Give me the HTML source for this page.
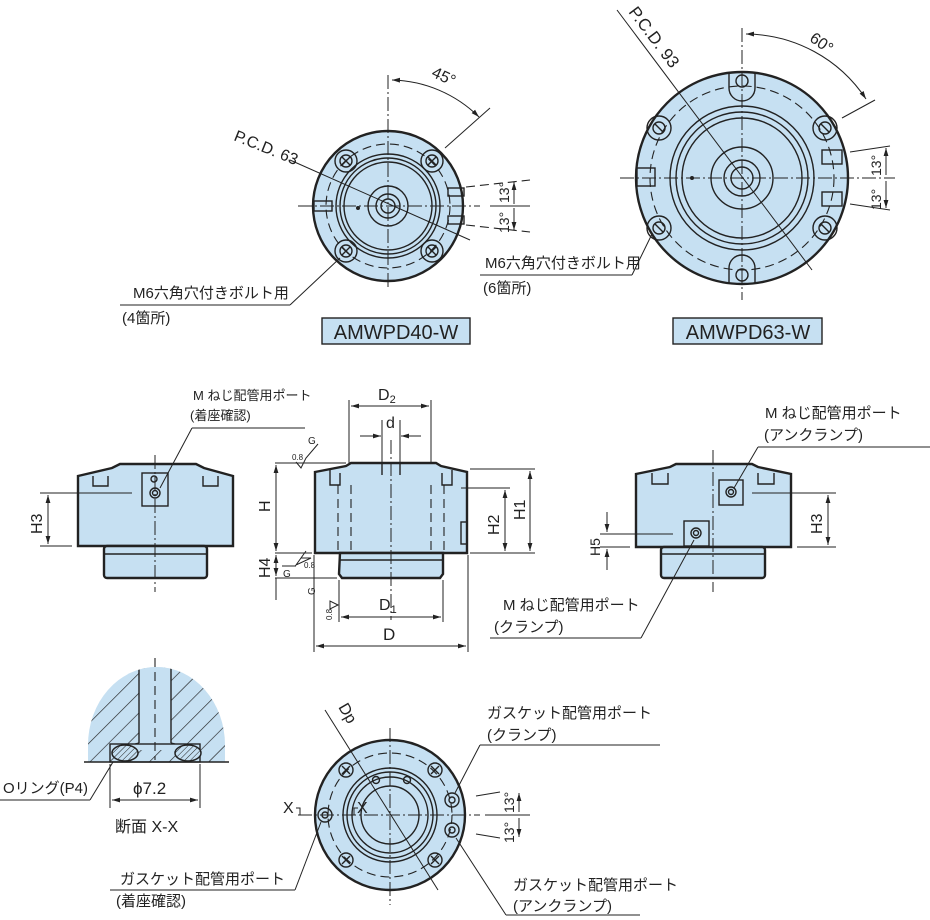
<!DOCTYPE html>
<html><head><meta charset="utf-8"><style>
html,body{margin:0;padding:0;background:#fff;}
svg{display:block;font-family:"Liberation Sans","Noto Sans CJK JP",sans-serif;}
.o{stroke:#222;stroke-width:2.4;fill:#c6e0f2}
.t{stroke:#222;stroke-width:1.4;fill:none}
.tf{stroke:#222;stroke-width:1.4;fill:#c6e0f2}
.d{stroke:#222;stroke-width:1.1;fill:none;stroke-dasharray:9 5}
.c{stroke:#222;stroke-width:1;fill:none;stroke-dasharray:14 3 2 3}
.l{stroke:#222;stroke-width:1;fill:none}
text{fill:#222}
</style></head><body>
<svg width="930" height="920" viewBox="0 0 930 920" xmlns="http://www.w3.org/2000/svg">
<defs>
<marker id="a" viewBox="0 0 10 10" refX="10" refY="5" markerWidth="8" markerHeight="8" orient="auto-start-reverse"><path d="M0,2 L10,5 L0,8 z" fill="#222"/></marker>
<pattern id="h" width="14" height="14" patternUnits="userSpaceOnUse" patternTransform="rotate(45)"><rect width="14" height="14" fill="#c6e0f2"/><line x1="0" y1="0" x2="0" y2="14" stroke="#222" stroke-width="1.3"/></pattern>
<pattern id="h2" width="4" height="4" patternUnits="userSpaceOnUse" patternTransform="rotate(45)"><rect width="4" height="4" fill="#c6e0f2"/><line x1="0" y1="0" x2="0" y2="4" stroke="#222" stroke-width="1"/></pattern>
<clipPath id="dome"><path d="M88,762 L88,745 A68.5,78 0 0 1 225,745 L225,762 Z"/></clipPath>
</defs>

<!-- ========== AMWPD40-W top view ========== -->
<g>
<circle cx="388" cy="206" r="75" class="o"/>
<circle cx="388" cy="206" r="62" class="d"/>
<circle cx="388" cy="206" r="52" class="t"/>
<circle cx="388" cy="206" r="48" class="t"/>
<circle cx="388" cy="206" r="44" class="t"/>
<circle cx="388" cy="206" r="20" class="t"/>
<circle cx="388" cy="206" r="12" class="t"/>
<circle cx="388" cy="206" r="7" class="t"/>
<circle cx="358" cy="208" r="2" fill="#222"/>
<g class="t">
<circle cx="346" cy="161" r="11"/><circle cx="346" cy="161" r="6"/><path d="M342,157l8,8M350,157l-8,8"/>
<circle cx="432" cy="161" r="11"/><circle cx="432" cy="161" r="6"/><path d="M428,157l8,8M436,157l-8,8"/>
<circle cx="346" cy="251" r="11"/><circle cx="346" cy="251" r="6"/><path d="M342,247l8,8M350,247l-8,8"/>
<circle cx="432" cy="251" r="11"/><circle cx="432" cy="251" r="6"/><path d="M428,247l8,8M436,247l-8,8"/>
<rect x="314" y="201" width="18" height="10"/><rect x="448" y="188" width="16" height="8"/><rect x="448" y="216" width="16" height="8"/>
</g>
<line x1="298" y1="206" x2="480" y2="206" class="c"/>
<line x1="388" y1="75" x2="388" y2="290" class="c"/>
<line x1="290" y1="160" x2="470" y2="240" class="l"/>
<text x="233" y="140" font-size="16" transform="rotate(22 233 140)">P.C.D. 63</text>
<line x1="445" y1="148" x2="490" y2="108" class="l"/>
<path d="M392,80 A128,128 0 0 1 479,117" class="l" marker-start="url(#a)" marker-end="url(#a)"/>
<text x="432" y="80" font-size="16" transform="rotate(25 440 75)">45°</text>
<line x1="466" y1="187" x2="530" y2="180" class="d"/>
<line x1="466" y1="225" x2="530" y2="232" class="d"/>
<line x1="490" y1="206" x2="530" y2="206" class="l"/>
<path d="M514,182 L514,204" class="l" marker-start="url(#a)"/>
<path d="M514,208 L514,230" class="l" marker-end="url(#a)"/>
<text x="509" y="203" font-size="14" transform="rotate(-90 509 203)">13°</text>
<text x="509" y="233" font-size="14" transform="rotate(-90 509 233)">13°</text>
<line x1="340" y1="258" x2="290" y2="305" class="l"/>
<line x1="120" y1="305" x2="290" y2="305" class="l"/>
<text x="133" y="298" font-size="15">M6六角穴付きボルト用</text>
<text x="122" y="323" font-size="15">(4箇所)</text>
<rect x="322" y="318" width="148" height="26" class="tf"/>
<text x="396" y="339" font-size="20" text-anchor="middle">AMWPD40-W</text>
</g>

<!-- ========== AMWPD63-W top view ========== -->
<g>
<circle cx="742" cy="178" r="106" class="o"/>
<circle cx="742" cy="178" r="92" class="d"/>
<circle cx="742" cy="178" r="72" class="t"/>
<circle cx="742" cy="178" r="66" class="t"/>
<circle cx="742" cy="178" r="60" class="t"/>
<circle cx="742" cy="178" r="31" class="t"/>
<circle cx="742" cy="178" r="18" class="t"/>
<circle cx="742" cy="178" r="11" class="t"/>
<circle cx="692" cy="178" r="2" fill="#222"/>
<g class="t">
<path d="M729,72 L729,88 A13,13 0 0 0 755,88 L755,72"/><circle cx="742" cy="81" r="6"/>
<path d="M729,284 L729,268 A13,13 0 0 1 755,268 L755,284"/><circle cx="742" cy="275" r="6"/>
<circle cx="659" cy="128" r="12"/><circle cx="659" cy="128" r="6"/><path d="M655,124l8,8"/>
<circle cx="825" cy="128" r="12"/><circle cx="825" cy="128" r="6"/><path d="M821,124l8,8"/>
<circle cx="659" cy="228" r="12"/><circle cx="659" cy="228" r="6"/><path d="M655,224l8,8"/>
<circle cx="825" cy="228" r="12"/><circle cx="825" cy="228" r="6"/><path d="M821,224l8,8"/>
<rect x="637" y="168" width="18" height="18"/><rect x="822" y="150" width="20" height="14"/><rect x="822" y="192" width="20" height="14"/>
</g>
<line x1="620" y1="178" x2="895" y2="178" class="c"/>
<line x1="742" y1="28" x2="742" y2="300" class="c"/>
<line x1="617" y1="10" x2="812" y2="270" class="l"/>
<text x="628" y="12" font-size="17" transform="rotate(53 628 12)">P.C.D. 93</text>
<line x1="842" y1="118" x2="875" y2="100" class="l"/>
<path d="M746,34 A145,145 0 0 1 866,99" class="l" marker-start="url(#a)" marker-end="url(#a)"/>
<text x="810" y="44" font-size="16" transform="rotate(35 815 40)">60°</text>
<line x1="850" y1="152" x2="890" y2="146" class="l"/>
<line x1="850" y1="204" x2="890" y2="210" class="l"/>
<path d="M886,148 L886,175" class="l" marker-start="url(#a)"/>
<path d="M886,181 L886,208" class="l" marker-end="url(#a)"/>
<text x="881" y="176" font-size="14" transform="rotate(-90 881 176)">13°</text>
<text x="881" y="210" font-size="14" transform="rotate(-90 881 210)">13°</text>
<line x1="652" y1="234" x2="632" y2="275" class="l"/>
<line x1="480" y1="275" x2="632" y2="275" class="l"/>
<text x="485" y="268" font-size="15">M6六角穴付きボルト用</text>
<text x="483" y="293" font-size="15">(6箇所)</text>
<rect x="673" y="318" width="149" height="26" class="tf"/>
<text x="748" y="339" font-size="20" text-anchor="middle">AMWPD63-W</text>
</g>

<!-- ========== Left side view ========== -->
<g>
<path d="M78,476 L112,468 L120,464 L196,464 L204,468 L233,476 L233,546 L78,546 Z" class="o"/>
<rect x="104" y="546" width="103" height="32" class="o" rx="3"/>
<line x1="104" y1="554" x2="207" y2="554" class="t"/>
<path d="M93,476 L93,486 L108,486 L108,476 M203,476 L203,486 L218,486 L218,476" class="t"/>
<rect x="142" y="473" width="26" height="33" class="t"/>
<circle cx="154" cy="479" r="3" class="t"/>
<circle cx="155" cy="493" r="5" class="t"/><circle cx="155" cy="493" r="2.5" class="t"/>
<line x1="155" y1="455" x2="155" y2="592" class="c"/>
<line x1="40" y1="493" x2="132" y2="493" class="l"/>
<line x1="40" y1="546" x2="72" y2="546" class="l"/>
<path d="M48,495 L48,544" class="l" marker-start="url(#a)" marker-end="url(#a)"/>
<text x="42" y="534" font-size="16" transform="rotate(-90 42 534)">H3</text>
<line x1="160" y1="488" x2="192" y2="428" class="l"/>
<line x1="192" y1="428" x2="305" y2="428" class="l"/>
<text x="193" y="400" font-size="13">M ねじ配管用ポート</text>
<text x="190" y="420" font-size="13">(着座確認)</text>
</g>

<!-- ========== Middle side view ========== -->
<g>
<path d="M315,472 L346,466 L351,463 L436,463 L441,466 L467,472 L467,553 L315,553 Z" class="o"/>
<path d="M340,553 L443,553 L443,574 L440,578 L342,578 L339,574 Z" class="o"/>
<line x1="339" y1="560" x2="443" y2="560" class="t"/>
<path d="M330,470 L330,485 L340,485 L340,473 M452,470 L452,485 L442,485 L442,473" class="t"/>
<line x1="338" y1="485" x2="338" y2="553" class="d"/>
<line x1="351" y1="485" x2="351" y2="553" class="d"/>
<line x1="431" y1="485" x2="431" y2="553" class="d"/>
<line x1="444" y1="485" x2="444" y2="553" class="d"/>
<line x1="382" y1="463" x2="382" y2="475" class="t"/><line x1="400" y1="463" x2="400" y2="475" class="t"/>
<rect x="461" y="522" width="6" height="22" class="t"/>
<line x1="391" y1="440" x2="391" y2="620" class="c"/>
<line x1="349" y1="400" x2="349" y2="463" class="l"/><line x1="431" y1="400" x2="431" y2="463" class="l"/>
<path d="M351,406 L429,406" class="l" marker-start="url(#a)" marker-end="url(#a)"/>
<text x="378" y="400" font-size="16">D<tspan font-size="11" dy="3">2</tspan></text>
<line x1="382" y1="420" x2="382" y2="463" class="l"/><line x1="400" y1="420" x2="400" y2="463" class="l"/>
<path d="M360,436 L381,436" class="l" marker-end="url(#a)"/><path d="M421,436 L401,436" class="l" marker-end="url(#a)"/>
<text x="386" y="428" font-size="16">d</text>
<line x1="275" y1="463" x2="346" y2="463" class="l"/>
<line x1="275" y1="553" x2="312" y2="553" class="l"/>
<line x1="275" y1="578" x2="337" y2="578" class="l"/>
<path d="M276,465 L276,551" class="l" marker-start="url(#a)" marker-end="url(#a)"/>
<path d="M276,555 L276,576" class="l" marker-start="url(#a)" marker-end="url(#a)"/>
<line x1="276" y1="578" x2="276" y2="600" class="l"/>
<text x="270" y="512" font-size="16" transform="rotate(-90 270 512)">H</text>
<text x="270" y="578" font-size="16" transform="rotate(-90 270 578)">H4</text>
<text x="292" y="460" font-size="8">0.8</text><path d="M296,462 L301,468 L306,458 L318,444" class="l"/><text x="308" y="444" font-size="10">G</text>
<path d="M296,565 L306,551 L301,558 L311,558 Z" class="l"/><text x="304" y="568" font-size="8">0.8</text><path d="M282,566 L296,566" class="l"/><text x="283" y="577" font-size="10">G</text>
<text x="315" y="595" font-size="10" transform="rotate(-90 315 595)">G</text>
<path d="M338,605 L330,601 L330,609 Z" class="l"/><text x="332" y="620" font-size="8" transform="rotate(-90 332 620)">0.8</text>
<line x1="470" y1="469" x2="535" y2="469" class="l"/>
<line x1="461" y1="488" x2="510" y2="488" class="l"/>
<line x1="470" y1="553" x2="535" y2="553" class="l"/>
<path d="M505,490 L505,551" class="l" marker-start="url(#a)" marker-end="url(#a)"/>
<path d="M530,471 L530,551" class="l" marker-start="url(#a)" marker-end="url(#a)"/>
<text x="499" y="535" font-size="16" transform="rotate(-90 499 535)">H2</text>
<text x="525" y="520" font-size="16" transform="rotate(-90 525 520)">H1</text>
<line x1="339" y1="580" x2="339" y2="622" class="l"/><line x1="443" y1="580" x2="443" y2="622" class="l"/>
<path d="M341,617 L441,617" class="l" marker-start="url(#a)" marker-end="url(#a)"/>
<text x="379" y="610" font-size="16">D<tspan font-size="11" dy="3">1</tspan></text>
<line x1="314" y1="555" x2="314" y2="652" class="l"/><line x1="468" y1="555" x2="468" y2="652" class="l"/>
<path d="M316,646 L466,646" class="l" marker-start="url(#a)" marker-end="url(#a)"/>
<text x="383" y="640" font-size="17">D</text>
</g>

<!-- ========== Right side view ========== -->
<g>
<path d="M636,474 L670,467 L676,464 L752,464 L758,467 L791,474 L791,547 L636,547 Z" class="o"/>
<rect x="661" y="547" width="104" height="31" class="o" rx="3"/>
<line x1="661" y1="554" x2="765" y2="554" class="t"/>
<path d="M652,473 L652,484 L668,484 L668,473 M758,473 L758,484 L774,484 L774,473" class="t"/>
<rect x="719" y="480" width="24" height="25" class="t"/>
<circle cx="731" cy="492" r="5" class="t"/><circle cx="731" cy="492" r="2.5" class="t"/>
<rect x="684" y="521" width="25" height="25" class="t"/>
<circle cx="696" cy="533" r="5" class="t"/><circle cx="696" cy="533" r="2.5" class="t"/>
<line x1="713" y1="450" x2="713" y2="592" class="c"/>
<line x1="752" y1="493" x2="836" y2="493" class="l"/>
<line x1="797" y1="547" x2="836" y2="547" class="l"/>
<path d="M828,495 L828,545" class="l" marker-start="url(#a)" marker-end="url(#a)"/>
<text x="822" y="534" font-size="16" transform="rotate(-90 822 534)">H3</text>
<line x1="600" y1="534" x2="673" y2="534" class="l"/>
<line x1="600" y1="547" x2="630" y2="547" class="l"/>
<path d="M607,512 L607,532" class="l" marker-end="url(#a)"/><path d="M607,570 L607,549" class="l" marker-end="url(#a)"/>
<text x="600" y="556" font-size="14" transform="rotate(-90 600 556)">H5</text>
<line x1="734" y1="488" x2="758" y2="447" class="l"/>
<line x1="758" y1="447" x2="930" y2="447" class="l"/>
<text x="765" y="418" font-size="15">M ねじ配管用ポート</text>
<text x="764" y="440" font-size="15">(アンクランプ)</text>
<line x1="694" y1="540" x2="641" y2="638" class="l"/>
<line x1="490" y1="638" x2="641" y2="638" class="l"/>
<text x="503" y="610" font-size="15">M ねじ配管用ポート</text>
<text x="494" y="632" font-size="15">(クランプ)</text>
</g>

<!-- ========== Section X-X ========== -->
<g>
<path d="M88,762 L88,745 A68.5,78 0 0 1 225,745 L225,762 Z" fill="url(#h)"/>
<g clip-path="url(#dome)">
<rect x="139" y="650" width="32" height="100" fill="#c6e0f2"/>
<line x1="139" y1="650" x2="139" y2="743" class="t"/><line x1="171" y1="650" x2="171" y2="743" class="t"/>
</g>
<path d="M135,750 L139,743 L171,743 L175,750 Z" fill="#c6e0f2"/>
<rect x="110" y="744" width="90" height="18" fill="#c6e0f2" class="t"/>
<path d="M139,743 L135,744 M171,743 L175,744" class="t"/>
<line x1="84" y1="762" x2="229" y2="762" class="t"/>
<ellipse cx="125" cy="753" rx="13" ry="8" fill="url(#h2)" stroke="#222" stroke-width="1.5"/>
<ellipse cx="188" cy="753" rx="13" ry="8" fill="url(#h2)" stroke="#222" stroke-width="1.5"/>
<line x1="155" y1="658" x2="155" y2="760" class="d"/>
<line x1="110" y1="764" x2="110" y2="808" class="l"/><line x1="200" y1="764" x2="200" y2="808" class="l"/>
<path d="M112,800 L198,800" class="l" marker-start="url(#a)" marker-end="url(#a)"/>
<text x="133" y="794" font-size="17">ϕ7.2</text>
<line x1="113" y1="762" x2="90" y2="800" class="l"/>
<line x1="0" y1="800" x2="90" y2="800" class="l"/>
<text x="3" y="793" font-size="15">Oリング(P4)</text>
<text x="115" y="832" font-size="16">断面 X-X</text>
</g>

<!-- ========== Bottom view ========== -->
<g>
<circle cx="390" cy="815" r="75" class="o"/>
<circle cx="390" cy="815" r="62" class="d"/>
<circle cx="390" cy="815" r="47" class="t"/>
<circle cx="390" cy="815" r="43" class="t"/>
<circle cx="390" cy="815" r="38" class="t"/>
<circle cx="390" cy="815" r="29" class="t"/>
<g class="t">
<circle cx="346" cy="770" r="7"/><path d="M342,766l8,8M350,766l-8,8"/>
<circle cx="435" cy="770" r="7"/><path d="M431,766l8,8M439,766l-8,8"/>
<circle cx="346" cy="860" r="7"/><path d="M342,856l8,8M350,856l-8,8"/>
<circle cx="435" cy="860" r="7"/><path d="M431,856l8,8M439,856l-8,8"/>
<circle cx="376" cy="780" r="3.5"/><circle cx="407" cy="780" r="3.5"/>
<circle cx="325" cy="815" r="7"/><circle cx="325" cy="815" r="3"/>
<circle cx="452" cy="800" r="7"/><circle cx="452" cy="800" r="3"/>
<circle cx="452" cy="830" r="7"/><circle cx="452" cy="830" r="3"/>
</g>
<line x1="298" y1="815" x2="480" y2="815" class="c"/>
<line x1="390" y1="728" x2="390" y2="905" class="c"/>
<line x1="325" y1="710" x2="438" y2="890" class="l"/>
<text x="338" y="707" font-size="16" transform="rotate(60 338 707)">Dp</text>
<text x="283" y="813" font-size="16">X</text><path d="M296,808 L300,808 L300,815" class="l"/>
<text x="357" y="813" font-size="16">X</text><path d="M358,808 L354,808 L354,815" class="l"/>
<line x1="476" y1="796" x2="500" y2="792" class="l"/>
<line x1="476" y1="834" x2="500" y2="838" class="l"/>
<line x1="485" y1="815" x2="530" y2="815" class="l"/>
<path d="M519,793 L519,812" class="l" marker-start="url(#a)"/>
<path d="M519,818 L519,837" class="l" marker-end="url(#a)"/>
<text x="514" y="813" font-size="14" transform="rotate(-90 514 813)">13°</text>
<text x="514" y="843" font-size="14" transform="rotate(-90 514 843)">13°</text>
<line x1="455" y1="793" x2="480" y2="745" class="l"/>
<line x1="480" y1="745" x2="660" y2="745" class="l"/>
<text x="487" y="718" font-size="15">ガスケット配管用ポート</text>
<text x="487" y="740" font-size="15">(クランプ)</text>
<line x1="456" y1="838" x2="506" y2="915" class="l"/>
<line x1="506" y1="915" x2="640" y2="915" class="l"/>
<text x="513" y="890" font-size="15">ガスケット配管用ポート</text>
<text x="513" y="911" font-size="15">(アンクランプ)</text>
<line x1="321" y1="822" x2="295" y2="890" class="l"/>
<line x1="110" y1="890" x2="295" y2="890" class="l"/>
<text x="120" y="884" font-size="15">ガスケット配管用ポート</text>
<text x="116" y="906" font-size="15">(着座確認)</text>
</g>
</svg>
</body></html>
